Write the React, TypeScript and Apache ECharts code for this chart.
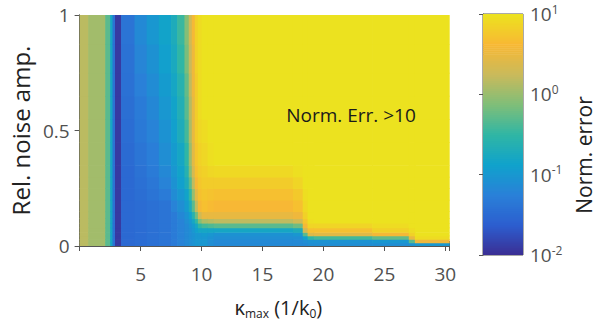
import React, { useEffect, useRef } from 'react';
import * as echarts from 'echarts';

const FONT = "'Open Sans', sans-serif";

// Row boundaries (relative noise amplitude), bottom -> top
const yEdges = [0, 0.015, 0.03, 0.045, 0.06, 0.08, 0.1, 0.12, 0.15, 0.2, 0.25, 0.3, 0.35, 0.45, 0.55, 0.65, 0.75, 0.875, 1];
// Column boundaries (kappa_max)
const xEdges = [0, 0.7, 2.1, 2.5, 2.7, 2.9, 3.4, 4.5, 5.5, 6.5, 7.5, 8.0, 8.6, 8.95, 9.2, 9.45, 9.7, 10.0, 10.5, 11, 17.5, 18.3, 18.7, 19.2, 24, 27, 27.5, 30.3];

const rep = (v: number, n: number) => Array(n).fill(v);

// log10(normalised error) for every column, listed bottom -> top (18 rows)
const colLeftA = rep(0.18, 18);
const colLeftB = rep(0.05, 18);
const colGreen = rep(-0.3, 18);
const colCyan = rep(-0.8, 18);
const colBlue = rep(-1.4, 18);
const colDark = rep(-1.9, 18);
const colB1 = [...rep(-1.5, 12), -1.48, -1.46, -1.44, -1.42, -1.4, -1.38];
const colB2 = [...rep(-1.47, 9), -1.45, -1.43, -1.4, -1.37, -1.33, -1.3, -1.25, -1.2, -1.15];
const colB3 = [...rep(-1.43, 9), -1.38, -1.35, -1.3, -1.27, -1.22, -1.17, -1.12, -1.06, -1.0];
const colB4 = [...rep(-1.38, 9), -1.3, -1.22, -1.16, -1.1, -1.05, -1.0, -0.95, -0.9, -0.85];
const colB5 = [...rep(-1.3, 8), -1.22, -1.12, -1.05, -1.0, -0.95, -0.9, -0.85, -0.8, -0.75, -0.7];
const colB6 = [...rep(-1.22, 7), -1.17, -1.1, -1.0, -0.9, -0.85, -0.8, -0.7, -0.65, -0.6, -0.5, -0.45];
const colT1 = [...rep(-1.15, 6), -1.1, -1.05, -0.95, -0.85, -0.7, -0.6, -0.5, -0.4, -0.3, -0.25, -0.15, -0.1];
const colT2 = [...rep(-1.1, 5), -1.05, -1.0, -0.9, -0.7, -0.5, -0.3, -0.1, 0.0, 0.1, 0.15, 0.2, 0.25, 0.3];
const colT3 = [...rep(-1.05, 4), -1.0, -0.95, -0.8, -0.6, -0.3, 0.0, 0.2, 0.35, 0.45, 0.5, 0.5, 0.55, 0.55, 0.6];
const colT4 = [...rep(-1.0, 4), -0.9, -0.8, -0.5, -0.2, 0.2, 0.45, 0.6, 0.7, 0.75, 0.8, 0.8, 0.8, 0.85, 0.85];
const colT5 = [...rep(-1.0, 4), -0.8, -0.5, -0.1, 0.3, 0.6, 0.7, 0.75, 0.8, 0.85, 0.9, 0.95, 0.95, 0.95, 0.95];
const colT6 = [-1.0, -1.0, -1.0, -0.95, -0.8, -0.4, 0.1, 0.5, 0.7, 0.75, 0.8, 0.85, 0.9, 0.95, 1, 1, 1, 1];
const colT7 = [-1.1, -1.1, -1.05, -1.0, -0.8, -0.35, 0.15, 0.5, 0.65, 0.72, 0.8, 0.9, 0.97, 1, 1, 1, 1, 1];
const colMid = [-1.15, -1.15, -1.1, -1.05, -0.8, -0.3, 0.2, 0.5, 0.62, 0.7, 0.8, 0.92, 1, 1, 1, 1, 1, 1];
const colMidEnd = [-1.15, -1.15, -1.1, -1.0, -0.7, -0.2, 0.3, 0.55, 0.7, 0.78, 0.88, 0.97, 1, 1, 1, 1, 1, 1];
const colStep1 = [-1.15, -1.1, -0.9, -0.3, 0.3, 0.6, 0.75, 0.85, 0.92, 0.96, ...rep(1, 8)];
const colStep2 = [-1.1, -1.05, -0.5, 0.4, 0.7, 0.88, 0.97, ...rep(1, 11)];
const colLow1 = [-1.1, -1.05, -0.4, 0.45, 0.7, 0.88, ...rep(1, 12)];
const colLow2 = [-1.1, -1.0, -0.25, 0.6, 0.85, 0.95, ...rep(1, 12)];
const colStep3 = [-1.05, -0.3, 0.5, 0.85, 0.95, ...rep(1, 13)];
const colLow3 = [-1.0, 0.55, 0.95, ...rep(1, 15)];

const profiles = [
  colLeftA, colLeftB, colGreen, colCyan, colBlue, colDark, colB1, colB2, colB3, colB4, colB5, colB6,
  colT1, colT2, colT3, colT4, colT5, colT6, colT7, colMid, colMidEnd, colStep1, colStep2,
  colLow1, colLow2, colStep3, colLow3,
];

const xTicks = [5, 10, 15, 20, 25, 30];
const colorStops = ['#3b2d92', '#2c5ecf', '#2a80d8', '#10a2cc', '#2fb6a5', '#7fbe79', '#c9ba5b', '#f8b834', '#ece21f'];

export default function App() {
  const ref = useRef<HTMLDivElement>(null);
  useEffect(() => {
    document.body.style.margin = '0';
    if (!ref.current) return;
    const chart = echarts.init(ref.current, undefined, { renderer: 'svg' });

    const cells: number[][] = [];
    profiles.forEach((prof, c) =>
      prof.forEach((v, r) => cells.push([xEdges[c], xEdges[c + 1], yEdges[r], yEdges[r + 1], v]))
    );
    const cbar: number[][] = [];
    for (let i = 0; i < 120; i++) {
      const a = -2 + (3 * i) / 120;
      const b = -2 + (3 * (i + 1)) / 120;
      cbar.push([0, 1, a, b, (a + b) / 2]);
    }

    const rectItem = (params: any, api: any) => {
      const p0 = api.coord([api.value(0), api.value(3)]);
      const p1 = api.coord([api.value(1), api.value(2)]);
      return {
        type: 'rect',
        shape: { x: p0[0], y: p0[1], width: p1[0] - p0[0] + 0.7, height: p1[1] - p0[1] + 0.7 },
        style: { fill: api.visual('color') },
      };
    };

    const axisLine = { show: true, lineStyle: { color: '#555', width: 1 } };
    const tick = { show: true, inside: true, length: 5, lineStyle: { color: '#555' } };
    const lbl = { color: '#505050', fontSize: 19, fontFamily: FONT };

    chart.setOption({
      animation: false,
      grid: [
        { left: 72, top: 15, width: 377, height: 238 },
        { left: 483, top: 14, width: 40, height: 241, show: true, borderColor: '#555', borderWidth: 1 },
      ],
      visualMap: {
        type: 'continuous', show: false, min: -2, max: 1, dimension: 4, seriesIndex: [0, 1],
        inRange: { color: colorStops },
      },
      xAxis: [
        {
          type: 'value', gridIndex: 0, min: 0, max: 30.3, interval: 5, position: 'bottom',
          axisLine, axisTick: tick, splitLine: { show: false },
          axisLabel: { ...lbl, margin: 18, formatter: (v: number) => (xTicks.includes(v) ? String(v) : '') },
          name: '{n|κ}{s|max}{n| (1/k}{t|0}{n|)}', nameLocation: 'middle', nameGap: 49,
          nameTextStyle: {
            padding: [0, 0, 0, 28],
            rich: {
              n: { fontSize: 20, fontFamily: FONT, color: '#222', lineHeight: 24 },
              s: { fontSize: 12, fontFamily: FONT, color: '#222', lineHeight: 14, verticalAlign: 'bottom' },
              t: { fontSize: 12, fontFamily: FONT, color: '#222', lineHeight: 12, verticalAlign: 'bottom' },
            },
          },
        },
        {
          type: 'value', gridIndex: 0, min: 0, max: 30.3, interval: 5, position: 'top',
          axisLine, axisTick: tick, axisLabel: { show: false }, splitLine: { show: false },
        },
        { type: 'value', gridIndex: 1, min: 0, max: 1, show: false },
      ],
      yAxis: [
        {
          type: 'value', gridIndex: 0, min: 0, max: 1, interval: 0.5, position: 'left',
          axisLine, axisTick: tick, splitLine: { show: false },
          axisLabel: { ...lbl, margin: 10 },
          name: 'Rel. noise amp.', nameLocation: 'middle', nameGap: 30,
          nameTextStyle: { fontSize: 24, fontFamily: FONT, color: '#222' },
        },
        {
          type: 'value', gridIndex: 0, min: 0, max: 1, interval: 0.5, position: 'right',
          axisLine, axisTick: tick, axisLabel: { show: false }, splitLine: { show: false },
        },
        {
          type: 'value', gridIndex: 1, min: -2, max: 1, interval: 1, position: 'right',
          axisLine, axisTick: { show: true, inside: true, length: 4, lineStyle: { color: '#555' } },
          splitLine: { show: false },
          axisLabel: {
            margin: 7,
            formatter: (v: number) => `{b|10}{s|${v}}`,
            rich: {
              b: { fontSize: 19, fontFamily: FONT, color: '#505050', lineHeight: 22 },
              s: { fontSize: 12, fontFamily: FONT, color: '#505050', lineHeight: 12, verticalAlign: 'top' },
            },
          },
        },
      ],
      series: [
        {
          type: 'custom', xAxisIndex: 0, yAxisIndex: 0, renderItem: rectItem, clip: true,
          encode: { x: [0, 1], y: [2, 3] }, data: cells, silent: true,
        },
        {
          type: 'custom', xAxisIndex: 2, yAxisIndex: 2, renderItem: rectItem, clip: true,
          encode: { x: [0, 1], y: [2, 3] }, data: cbar, silent: true,
        },
      ],
      graphic: [
        {
          type: 'text', x: 351, y: 115, z: 100,
          style: {
            text: 'Norm. Err. >10', fontSize: 19, fontFamily: FONT, fill: '#1a1a1a',
            align: 'center', verticalAlign: 'middle',
          },
        },
        {
          type: 'text', x: 584, y: 155, rotation: Math.PI / 2, z: 100,
          style: {
            text: 'Norm. error', fontSize: 21, fontFamily: FONT, fill: '#222',
            align: 'center', verticalAlign: 'middle',
          },
        },
      ],
    });
    return () => chart.dispose();
  }, []);
  return <div ref={ref} style={{ width: 598, height: 324, background: '#fff' }} />;
}
